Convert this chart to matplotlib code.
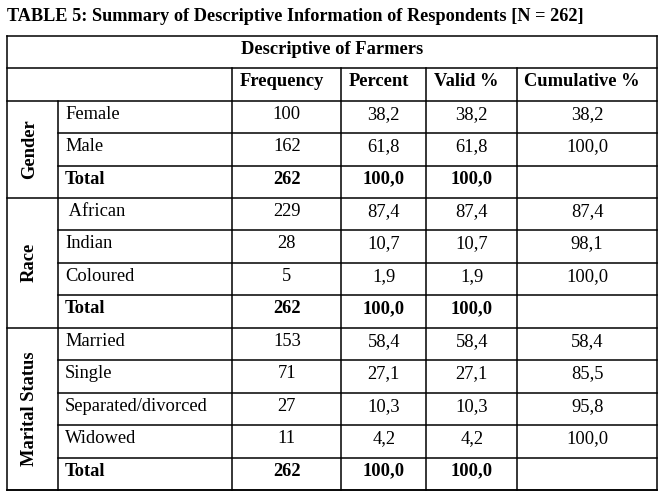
import matplotlib
matplotlib.use('Agg')
import matplotlib.pyplot as plt

# table data
title = 'TABLE 5: Summary of Descriptive Information of Respondents [N = 262]'
super_header = 'Descriptive of Farmers'
col_headers = ['Frequency', 'Percent', 'Valid %', 'Cumulative %']

groups = ['Gender', 'Race', 'Marital Status']

gender_labels = ['Female', 'Male', 'Total']
gender_freq = [100, 162, 262]
gender_pct = [38.2, 61.8, 100.0]
gender_valid = [38.2, 61.8, 100.0]
gender_cum = [38.2, 100.0, None]

race_labels = [' African', 'Indian', 'Coloured', 'Total']
race_freq = [229, 28, 5, 262]
race_pct = [87.4, 10.7, 1.9, 100.0]
race_valid = [87.4, 10.7, 1.9, 100.0]
race_cum = [87.4, 98.1, 100.0, None]

marital_labels = ['Married', 'Single', 'Separated/divorced', 'Widowed', 'Total']
marital_freq = [153, 71, 27, 11, 262]
marital_pct = [58.4, 27.1, 10.3, 4.2, 100.0]
marital_valid = [58.4, 27.1, 10.3, 4.2, 100.0]
marital_cum = [58.4, 85.5, 95.8, 100.0, None]

blocks = [
    (gender_labels, gender_freq, gender_pct, gender_valid, gender_cum),
    (race_labels, race_freq, race_pct, race_valid, race_cum),
    (marital_labels, marital_freq, marital_pct, marital_valid, marital_cum),
]


def fmt(v):
    if v is None:
        return ''
    return f'{v:.1f}'.replace('.', ',')


# layout in pixels
W, H = 664, 496
top = 35.7
row_h = 32.45
cols = [7.3, 57.5, 232.3, 341.3, 426.0, 517.3, 657.0]
n_rows = 2 + sum(len(b[0]) for b in blocks)
bottom = top + n_rows * row_h
base_off = 18.0
lw = 1.1
font = 'Liberation Serif'
fs = 13.3

fig = plt.figure(figsize=(W / 100, H / 100), dpi=100)
ax = fig.add_axes([0, 0, 1, 1])
ax.set_xlim(0, W)
ax.set_ylim(H, 0)
ax.axis('off')


def txt(x, y, s, bold=False, **kw):
    ax.text(x, y, s, fontfamily=font, fontsize=kw.pop('size', fs),
            fontweight='bold' if bold else 'normal', va='baseline', **kw)


def hline(y, x0, x1):
    ax.plot([x0, x1], [y, y], color='black', lw=lw, solid_capstyle='projecting')


def vline(x, y0, y1):
    ax.plot([x, x], [y0, y1], color='black', lw=lw, solid_capstyle='projecting')


txt(cols[0], 20.7, title, bold=True, ha='left', size=13.15)

# outer frame
hline(top, cols[0], cols[-1])
hline(bottom, cols[0], cols[-1])
vline(cols[0], top, bottom)
vline(cols[-1], top, bottom)

# super header row
txt((cols[0] + cols[-1]) / 2, top + base_off, super_header, bold=True, ha='center')
y = top + row_h
hline(y, cols[0], cols[-1])

# column header row
for i, h in enumerate(col_headers):
    cx = (cols[i + 2] + cols[i + 3]) / 2 - 5
    txt(cx, y + base_off, h, bold=True, ha='center')
for c in cols[2:-1]:
    vline(c, y, bottom)
y += row_h
hline(y, cols[0], cols[-1])
vline(cols[1], y, bottom)

for g, (labels, freq, pct, valid, cum) in zip(groups, blocks):
    y0 = y
    for j, lab in enumerate(labels):
        is_total = lab == 'Total'
        txt(65, y + base_off, lab, bold=is_total, ha='left')
        vals = [str(freq[j]), fmt(pct[j]), fmt(valid[j]), fmt(cum[j])]
        for k, v in enumerate(vals):
            cx = (cols[k + 2] + cols[k + 3]) / 2
            txt(cx, y + base_off, v, bold=is_total, ha='center')
        y += row_h
        if j < len(labels) - 1:
            hline(y, cols[1], cols[-1])
        else:
            hline(y, cols[0], cols[-1])
    ax.text(34, (y0 + y) / 2, g, fontfamily=font, fontsize=fs, fontweight='bold',
            rotation=90, rotation_mode='anchor', ha='center', va='baseline')

fig.savefig('out.png', dpi=100)
